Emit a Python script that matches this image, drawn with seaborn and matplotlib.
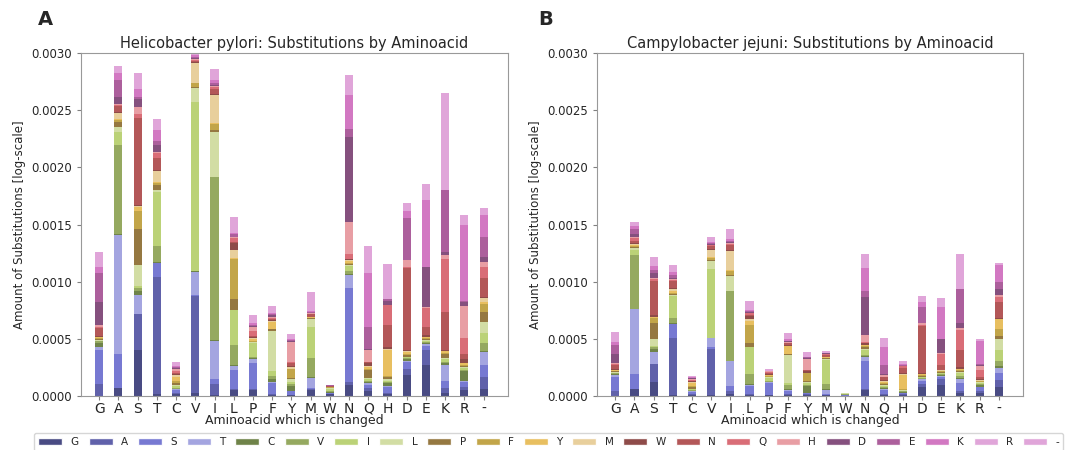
import numpy as np
import pandas as pd
import seaborn as sns
import matplotlib
matplotlib.use("Agg")
import matplotlib.pyplot as plt
from matplotlib.patches import Patch
from matplotlib.ticker import FormatStrFormatter, MultipleLocator

# aminoacids: order of bars on x and order of the stacked segments (bottom -> top)
AMINO = ["G", "A", "S", "T", "C", "V", "I", "L", "P", "F", "Y",
         "M", "W", "N", "Q", "H", "D", "E", "K", "R", "-"]

# substitution amounts in units of 1e-4, one row per changed aminoacid,
# values follow AMINO (the new aminoacid)
HP = {
    "G": [0, 1.05, 3.0, 0.2, 0.4, 0.15, 0.05, 0.05, 0.05, 0.1, 0.1, 0.05, 0.05, 0.7, 0.05, 0.2, 2.0, 2.6, 0.5, 0.6, 0.7],
    "A": [0.73, 0, 2.95, 10.4, 0.1, 7.8, 1.1, 0.45, 0.4, 0.2, 0.1, 0.5, 0.1, 0.5, 0.1, 0.1, 0.65, 1.45, 0.6, 0.3, 0.37],
    "S": [4.0, 3.2, 0, 1.6, 0.35, 0.3, 0.15, 1.85, 3.15, 1.6, 0.35, 0.05, 0.1, 7.6, 0.38, 0.64, 0.7, 0.1, 0.75, 0.7, 0.7],
    "T": [0.15, 10.3, 1.2, 0, 0.05, 1.45, 4.7, 0.2, 0.45, 0.1, 0.1, 1.0, 0.1, 1.0, 0.45, 0.1, 0.6, 0.35, 0.95, 0.5, 0.5],
    "C": [0.2, 0.1, 0.2, 0.1, 0, 0.1, 0.15, 0.1, 0.15, 0.2, 0.4, 0.1, 0.15, 0.1, 0.1, 0.25, 0.05, 0.1, 0.1, 0.15, 0.2],
    "V": [0.25, 8.5, 0.1, 2.0, 0.05, 0, 14.8, 1.25, 0.1, 0.3, 0.05, 1.7, 0.1, 0.15, 0.05, 0.05, 0.1, 0.1, 0.2, 0.1, 0.1],
    "I": [0.1, 0.95, 0.4, 3.4, 0.05, 14.3, 0, 3.9, 0.2, 0.5, 0.05, 2.45, 0.1, 0.5, 0.1, 0.1, 0.1, 0.2, 0.25, 0.5, 0.5],
    "L": [0.5, 0.1, 1.7, 0.35, 0.1, 1.75, 3.0, 0, 0.95, 3.5, 0.1, 0.7, 0.65, 0.1, 0.3, 0.1, 0.05, 0.2, 0.15, 0.7, 0.7],
    "P": [0.5, 0.1, 2.3, 0.35, 0.05, 0.1, 1.2, 0.1, 0, 0.15, 0.1, 0.1, 0.1, 0.1, 0.45, 0.3, 0.1, 0.1, 0.2, 0.3, 0.35],
    "F": [0.1, 0.1, 0.9, 0.1, 0.25, 0.3, 0.4, 3.5, 0.2, 0, 0.6, 0.1, 0.1, 0.1, 0.1, 0.1, 0.1, 0.1, 0.1, 0.3, 0.3],
    "Y": [0.05, 0.05, 0.3, 0.05, 0.4, 0.2, 0.2, 0.2, 0.1, 0.85, 0, 0.1, 0.1, 0.25, 0.1, 1.8, 0.1, 0.05, 0.05, 0.25, 0.25],
    "M": [0.5, 0.1, 0.1, 0.9, 0.1, 1.6, 2.75, 0.7, 0.05, 0.05, 0.05, 0, 0.05, 0.2, 0.05, 0.05, 0.05, 0.05, 0.05, 0.85, 0.85],
    "W": [0.15, 0.05, 0.05, 0.05, 0.05, 0.1, 0.15, 0.1, 0.02, 0.03, 0.02, 0.03, 0, 0.05, 0.02, 0.02, 0.02, 0.02, 0.02, 0.02, 0.02],
    "N": [0.95, 0.3, 8.2, 1.15, 0.1, 0.2, 0.45, 0.15, 0.05, 0.1, 0.15, 0.1, 0.1, 0, 0.45, 2.8, 7.4, 0.7, 3.0, 0.85, 0.9],
    "Q": [0.4, 0.3, 0.3, 0.1, 0.1, 0.1, 0.15, 0.15, 0.7, 0.1, 0.1, 0.1, 0.3, 0.1, 0, 1.0, 0.1, 1.9, 4.8, 1.15, 1.15],
    "H": [0.15, 0.1, 0.5, 0.1, 0.3, 0.1, 0.1, 0.1, 0.2, 0.1, 2.3, 0.1, 0.1, 1.95, 1.8, 0, 0.35, 0.1, 0.05, 1.5, 1.55],
    "D": [1.85, 0.5, 0.65, 0.1, 0.1, 0.1, 0.1, 0.05, 0.1, 0.1, 0.2, 0.05, 0.1, 7.2, 0.1, 0.6, 0, 3.7, 0.55, 0.35, 0.35],
    "E": [2.7, 1.3, 0.35, 0.2, 0.1, 0.1, 0.1, 0.05, 0.1, 0.1, 0.05, 0.05, 0.1, 0.7, 1.7, 0.1, 3.45, 0, 5.9, 0.7, 0.7],
    "K": [0.3, 0.4, 0.6, 1.45, 0.1, 0.1, 0.3, 0.1, 0.3, 0.15, 0.1, 0.05, 0.1, 3.3, 4.6, 0.35, 0.3, 5.4, 0, 4.3, 4.25],
    "R": [0.5, 0.3, 0.4, 0.1, 0.85, 0.15, 0.15, 0.1, 0.1, 0.1, 0.1, 0.05, 0.3, 0.45, 1.45, 2.8, 0.35, 0.1, 6.65, 0, 0.8],
    "-": [0.65, 1.0, 1.1, 1.1, 0.1, 0.65, 0.95, 0.9, 0.9, 0.7, 0.2, 0.35, 0.1, 1.6, 1.0, 0.4, 0.5, 1.75, 1.85, 0.65, 0],
}

CJ = {
    "G": [0, 0.4, 1.25, 0.15, 0.1, 0.1, 0.05, 0.05, 0.05, 0.05, 0.05, 0.05, 0.05, 0.4, 0.05, 0.1, 0.75, 0.85, 0.2, 0.45, 0.45],
    "A": [0.6, 0, 1.3, 5.7, 0.05, 4.7, 0.4, 0.2, 0.1, 0.1, 0.05, 0.1, 0.1, 0.2, 0.2, 0.1, 0.3, 0.4, 0.3, 0.15, 0.2],
    "S": [1.2, 1.6, 0, 1.05, 0.3, 0.1, 0.1, 0.6, 1.4, 0.45, 0.1, 0.05, 0.1, 3.0, 0.2, 0.1, 0.45, 0.2, 0.35, 0.4, 0.4],
    "T": [0.1, 5.0, 1.2, 0, 0.05, 0.45, 1.95, 0.1, 0.1, 0.1, 0.15, 0.2, 0.05, 0.6, 0.1, 0.05, 0.15, 0.2, 0.3, 0.3, 0.3],
    "C": [0.1, 0.1, 0.15, 0.1, 0, 0.05, 0.1, 0.05, 0.1, 0.15, 0.25, 0.05, 0.1, 0.05, 0.05, 0.1, 0.05, 0.05, 0.05, 0.05, 0.05],
    "V": [0.1, 4.05, 0.1, 0.8, 0.05, 0, 6.0, 0.7, 0.1, 0.2, 0.05, 0.65, 0.1, 0.25, 0.05, 0.05, 0.05, 0.1, 0.1, 0.2, 0.2],
    "I": [0.15, 0.3, 0.4, 2.2, 0.05, 6.1, 0, 1.3, 0.1, 0.35, 0.05, 1.65, 0.1, 0.45, 0.1, 0.05, 0.1, 0.15, 0.15, 0.45, 0.4],
    "L": [0.1, 0.1, 0.65, 0.1, 0.1, 0.85, 2.35, 0, 0.35, 1.6, 0.35, 0.15, 0.3, 0.1, 0.15, 0.05, 0.05, 0.1, 0.1, 0.4, 0.4],
    "P": [0.05, 0.05, 1.05, 0.05, 0.05, 0.05, 0.3, 0.1, 0, 0.05, 0.05, 0.05, 0.05, 0.15, 0.05, 0.05, 0.02, 0.02, 0.02, 0.08, 0.07],
    "F": [0.05, 0.1, 0.3, 0.05, 0.1, 0.35, 0.15, 2.45, 0.15, 0, 0.65, 0.05, 0.1, 0.1, 0.05, 0.1, 0.05, 0.05, 0.1, 0.3, 0.3],
    "Y": [0.1, 0.05, 0.1, 0.05, 0.6, 0.1, 0.1, 0.15, 0.05, 0.7, 0, 0.05, 0.1, 0.1, 0.05, 0.95, 0.1, 0.05, 0.05, 0.2, 0.2],
    "M": [0.05, 0.05, 0.1, 0.35, 0.1, 0.4, 2.1, 0.1, 0.05, 0.05, 0.05, 0, 0.05, 0.15, 0.05, 0.05, 0.02, 0.03, 0.05, 0.08, 0.07],
    "W": [0.02, 0.02, 0.02, 0.02, 0.05, 0.05, 0.02, 0.02, 0.01, 0.01, 0.01, 0.01, 0, 0.01, 0.01, 0.02, 0, 0, 0, 0, 0],
    "N": [0.55, 0.1, 2.4, 0.4, 0.05, 0.1, 0.45, 0.1, 0.1, 0.1, 0.1, 0.05, 0.1, 0, 0.15, 0.6, 3.3, 0.5, 2.05, 0.6, 0.65],
    "Q": [0.1, 0.1, 0.3, 0.1, 0.1, 0.1, 0.1, 0.05, 0.1, 0.1, 0.1, 0.05, 0.1, 0.3, 0, 0.15, 0.1, 0.8, 1.5, 0.45, 0.4],
    "H": [0.05, 0.1, 0.1, 0.05, 0.05, 0.05, 0.05, 0.05, 0.05, 0.1, 1.2, 0.05, 0.1, 0.45, 0.15, 0, 0.05, 0.1, 0.05, 0.15, 0.15],
    "D": [0.8, 0.25, 0.3, 0.1, 0.05, 0.1, 0.05, 0.05, 0.05, 0.05, 0.1, 0.05, 0.1, 4.1, 0.1, 0.1, 0, 1.45, 0.45, 0.25, 0.25],
    "E": [1.0, 0.45, 0.2, 0.1, 0.05, 0.1, 0.1, 0.05, 0.05, 0.05, 0.05, 0.05, 0.05, 0.45, 0.9, 0.1, 1.25, 0, 2.8, 0.35, 0.4],
    "K": [0.3, 0.15, 0.65, 0.4, 0.1, 0.15, 0.25, 0.1, 0.1, 0.1, 0.05, 0.05, 0.1, 1.55, 1.75, 0.15, 0.4, 3.0, 0, 1.55, 1.55],
    "R": [0.3, 0.15, 0.3, 0.05, 0.15, 0.1, 0.1, 0.05, 0.05, 0.05, 0.05, 0.05, 0.1, 0.15, 0.6, 0.35, 0.1, 0.1, 2.0, 0, 0.15],
    "-": [0.8, 0.6, 0.6, 0.45, 0.15, 0.45, 0.95, 0.95, 0.3, 0.65, 0.8, 0.05, 0.05, 1.4, 0.5, 0.15, 0.5, 0.65, 1.45, 0.2, 0],
}

TITLES = ["Helicobacter pylori: Substitutions by Aminoacid",
          "Campylobacter jejuni: Substitutions by Aminoacid"]
PANELS = ["A", "B"]

# tab20b sampled at 21 points -> the last two share a colour
cmap = plt.get_cmap("tab20b")
COLORS = [cmap(x) for x in np.linspace(0, 1, 21)]
palette = dict(zip(AMINO, COLORS))
ALPHA = 0.92


def to_long(table):
    rows = []
    for src in AMINO:
        for dst, v in zip(AMINO, table[src]):
            rows.append((src, dst, v * 1e-4))
    return pd.DataFrame(rows, columns=["source", "target", "value"])


sns.set_style("ticks")
plt.rcParams["font.family"] = ["DejaVu Sans"]

fig = plt.figure(figsize=(10.72, 4.5), dpi=100)
ax1 = fig.add_axes([0.0755, 0.12, 0.398, 0.762])
ax2 = fig.add_axes([0.557, 0.12, 0.397, 0.762])

for ax, table, title, tag, tag_x in zip([ax1, ax2], [HP, CJ], TITLES, PANELS,
                                        [0.035, 0.502]):
    df = to_long(table)
    # reversed hue order puts G at the bottom of each stack
    sns.histplot(data=df, x="source", hue="target", weights="value",
                 multiple="stack", discrete=True, shrink=0.42,
                 hue_order=AMINO[::-1], palette=palette, alpha=ALPHA,
                 linewidth=0, legend=False, ax=ax)
    ax.set_xlim(-0.95, 21.25)
    ax.set_ylim(0, 0.003)
    ax.yaxis.set_major_locator(MultipleLocator(0.0005))
    ax.yaxis.set_major_formatter(FormatStrFormatter("%.4f"))
    ax.set_title(title, fontsize=10.5, pad=4)
    ax.set_xlabel("Aminoacid which is changed", fontsize=9, labelpad=-1)
    ax.set_ylabel("Amount of Substitutions [log-scale]", fontsize=8.5)
    ax.tick_params(axis="x", labelsize=10, length=3, color="0.5", pad=1)
    ax.tick_params(axis="y", labelsize=8.5, length=3, color="0.5")
    for sp in ax.spines.values():
        sp.set_color("0.6")
    fig.text(tag_x, 0.935, tag, fontsize=14, fontweight="bold",
             ha="left", va="bottom")

handles = [Patch(facecolor=c, alpha=ALPHA, label=a) for a, c in zip(AMINO, COLORS)]
fig.legend(handles=handles, loc="upper center", bbox_to_anchor=(0.512, 0.05),
           ncol=21, fontsize=7.5, frameon=True, handlelength=2.3,
           columnspacing=0.95, handletextpad=0.8, edgecolor="0.8",
           fancybox=True)

fig.savefig("out.png", dpi=100)
